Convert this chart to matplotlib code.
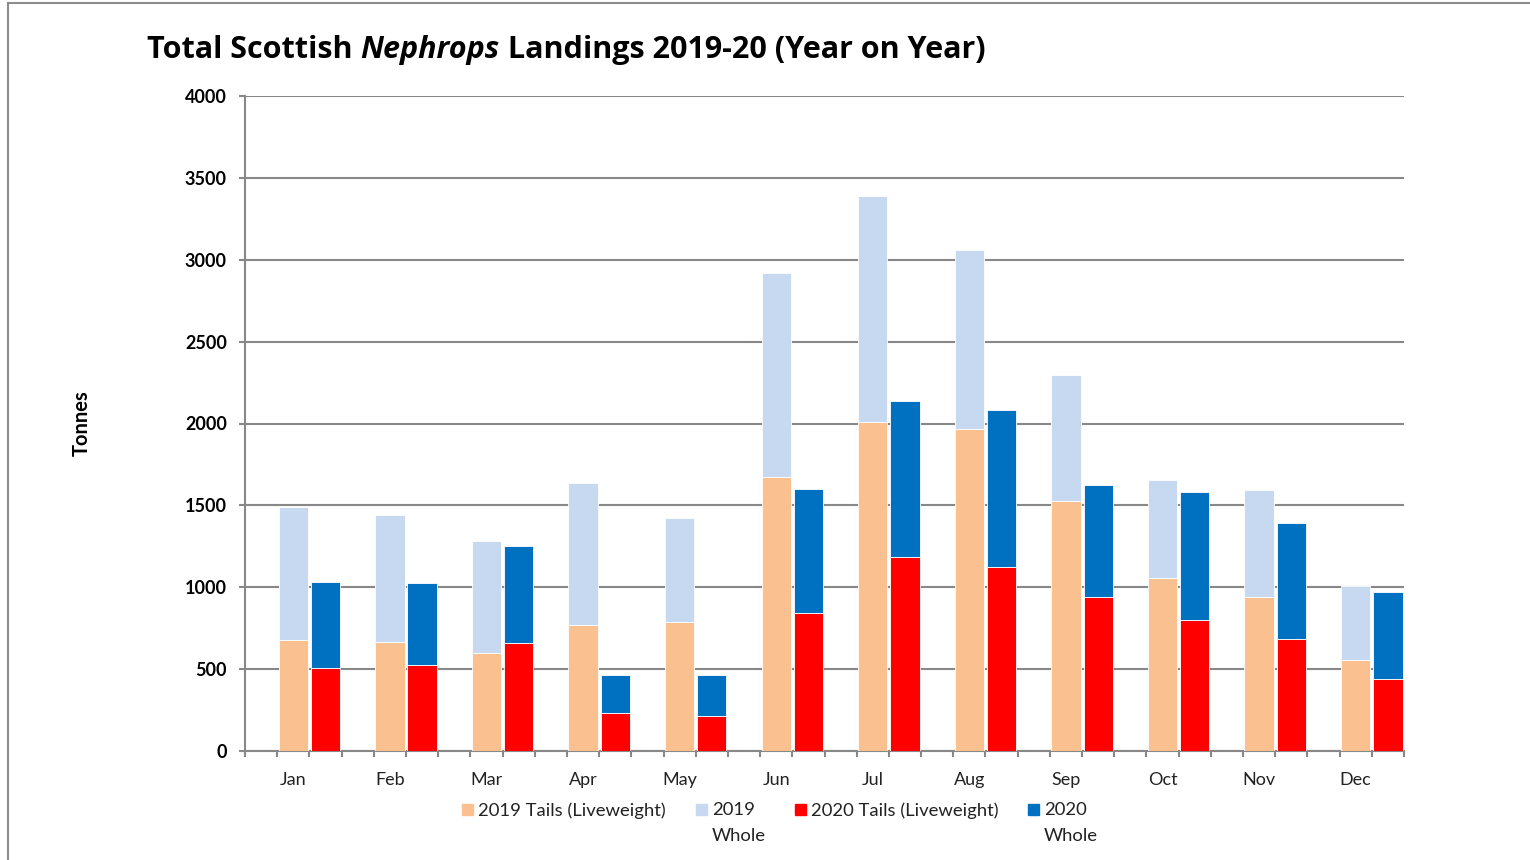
import numpy as np
import matplotlib
matplotlib.use("Agg")
import matplotlib.pyplot as plt
from matplotlib.patches import Rectangle
from matplotlib.lines import Line2D

months = ["Jan", "Feb", "Mar", "Apr", "May", "Jun",
          "Jul", "Aug", "Sep", "Oct", "Nov", "Dec"]
tails_2019 = [675, 667, 598, 770, 787, 1673, 2008, 1967, 1527, 1059, 941, 553]
whole_2019 = [815, 774, 684, 869, 634, 1246, 1380, 1090, 770, 597, 652, 457]
tails_2020 = [509, 527, 657, 232, 213, 843, 1185, 1124, 939, 798, 681, 437]
whole_2020 = [526, 502, 595, 233, 252, 757, 951, 957, 687, 783, 714, 537]
yticks = [0, 500, 1000, 1500, 2000, 2500, 3000, 3500, 4000]

c_t19, c_w19 = "#FAC090", "#C6D9F1"
c_t20, c_w20 = "#FF0000", "#0070C0"
grey = "#888888"
W, H = 1530, 860

plt.rcParams["font.family"] = ["Lato", "DejaVu Sans"]
fig = plt.figure(figsize=(W / 100, H / 100), dpi=100)
ax = fig.add_axes([245 / W, 1 - 751 / H, (1404 - 245) / W, (751 - 96) / H])

# 3 category slots per month: blank, 2019, 2020
x19 = np.arange(12) * 3 + 1.5
x20 = np.arange(12) * 3 + 2.5
bw = 0.91
kw = dict(width=bw, edgecolor="white", linewidth=0.6, zorder=3)
ax.bar(x19, tails_2019, color=c_t19, **kw)
ax.bar(x19, whole_2019, bottom=tails_2019, color=c_w19, **kw)
ax.bar(x20, tails_2020, color=c_t20, **kw)
ax.bar(x20, whole_2020, bottom=tails_2020, color=c_w20, **kw)

ax.set_xlim(0, 36)
ax.set_ylim(0, 4000)
ax.set_yticks(yticks)
ax.grid(axis="y", color=grey, lw=1.5, zorder=0)
ax.tick_params(axis="y", length=4, width=1.5, color=grey, pad=9,
               labelsize=13)
for lab in ax.get_yticklabels():
    lab.set_fontweight("bold")
ax.set_xticks(x19)
ax.set_xticklabels(months, fontsize=13, color="#222222")
ax.set_xticks(np.arange(37), minor=True)
ax.tick_params(axis="x", which="major", length=0, pad=15)
ax.tick_params(axis="x", which="minor", length=4, width=1.5, color=grey)
for s in ["top", "right"]:
    ax.spines[s].set_visible(False)
for s in ["left", "bottom"]:
    ax.spines[s].set_color(grey)
    ax.spines[s].set_linewidth(1.5)

fig.text(82 / W, 1 - 423 / H, "Tonnes", rotation=90, ha="center",
         va="center", fontsize=14.5, fontweight="bold")

# title with italic genus name
tf = dict(fontsize=22, fontweight="bold", family=["Open Sans", "DejaVu Sans"])
t1 = fig.text(147 / W, 1 - 58 / H, "Total Scottish ", va="baseline", **tf)
t2 = ax.annotate("Nephrops", xy=(1, 0), xycoords=t1, style="italic",
                 va="bottom", **tf)
ax.annotate(" Landings 2019-20 (Year on Year)", xy=(1, 0), xycoords=t2,
            va="bottom", **tf)

# legend
leg = [(462, c_t19, "2019 Tails (Liveweight)"), (696, c_w19, "2019\nWhole"),
       (795, c_t20, "2020 Tails (Liveweight)"), (1028, c_w20, "2020\nWhole")]
for px, col, lab in leg:
    fig.add_artist(Rectangle((px / W, 1 - 815 / H), 11 / W, 11 / H,
                             color=col, transform=fig.transFigure))
    fig.text((px + 16) / W, 1 - 802 / H, lab, fontsize=13.3, va="top",
             color="#222222", linespacing=1.8)

# outer frame
fig.add_artist(Line2D([8 / W, 8 / W], [0, 1 - 3 / H], color="#8c8c8c",
                      lw=1.5, transform=fig.transFigure))
fig.add_artist(Line2D([8 / W, 1], [1 - 3 / H, 1 - 3 / H], color="#8c8c8c",
                      lw=1.5, transform=fig.transFigure))

fig.savefig("out.png", dpi=100)
